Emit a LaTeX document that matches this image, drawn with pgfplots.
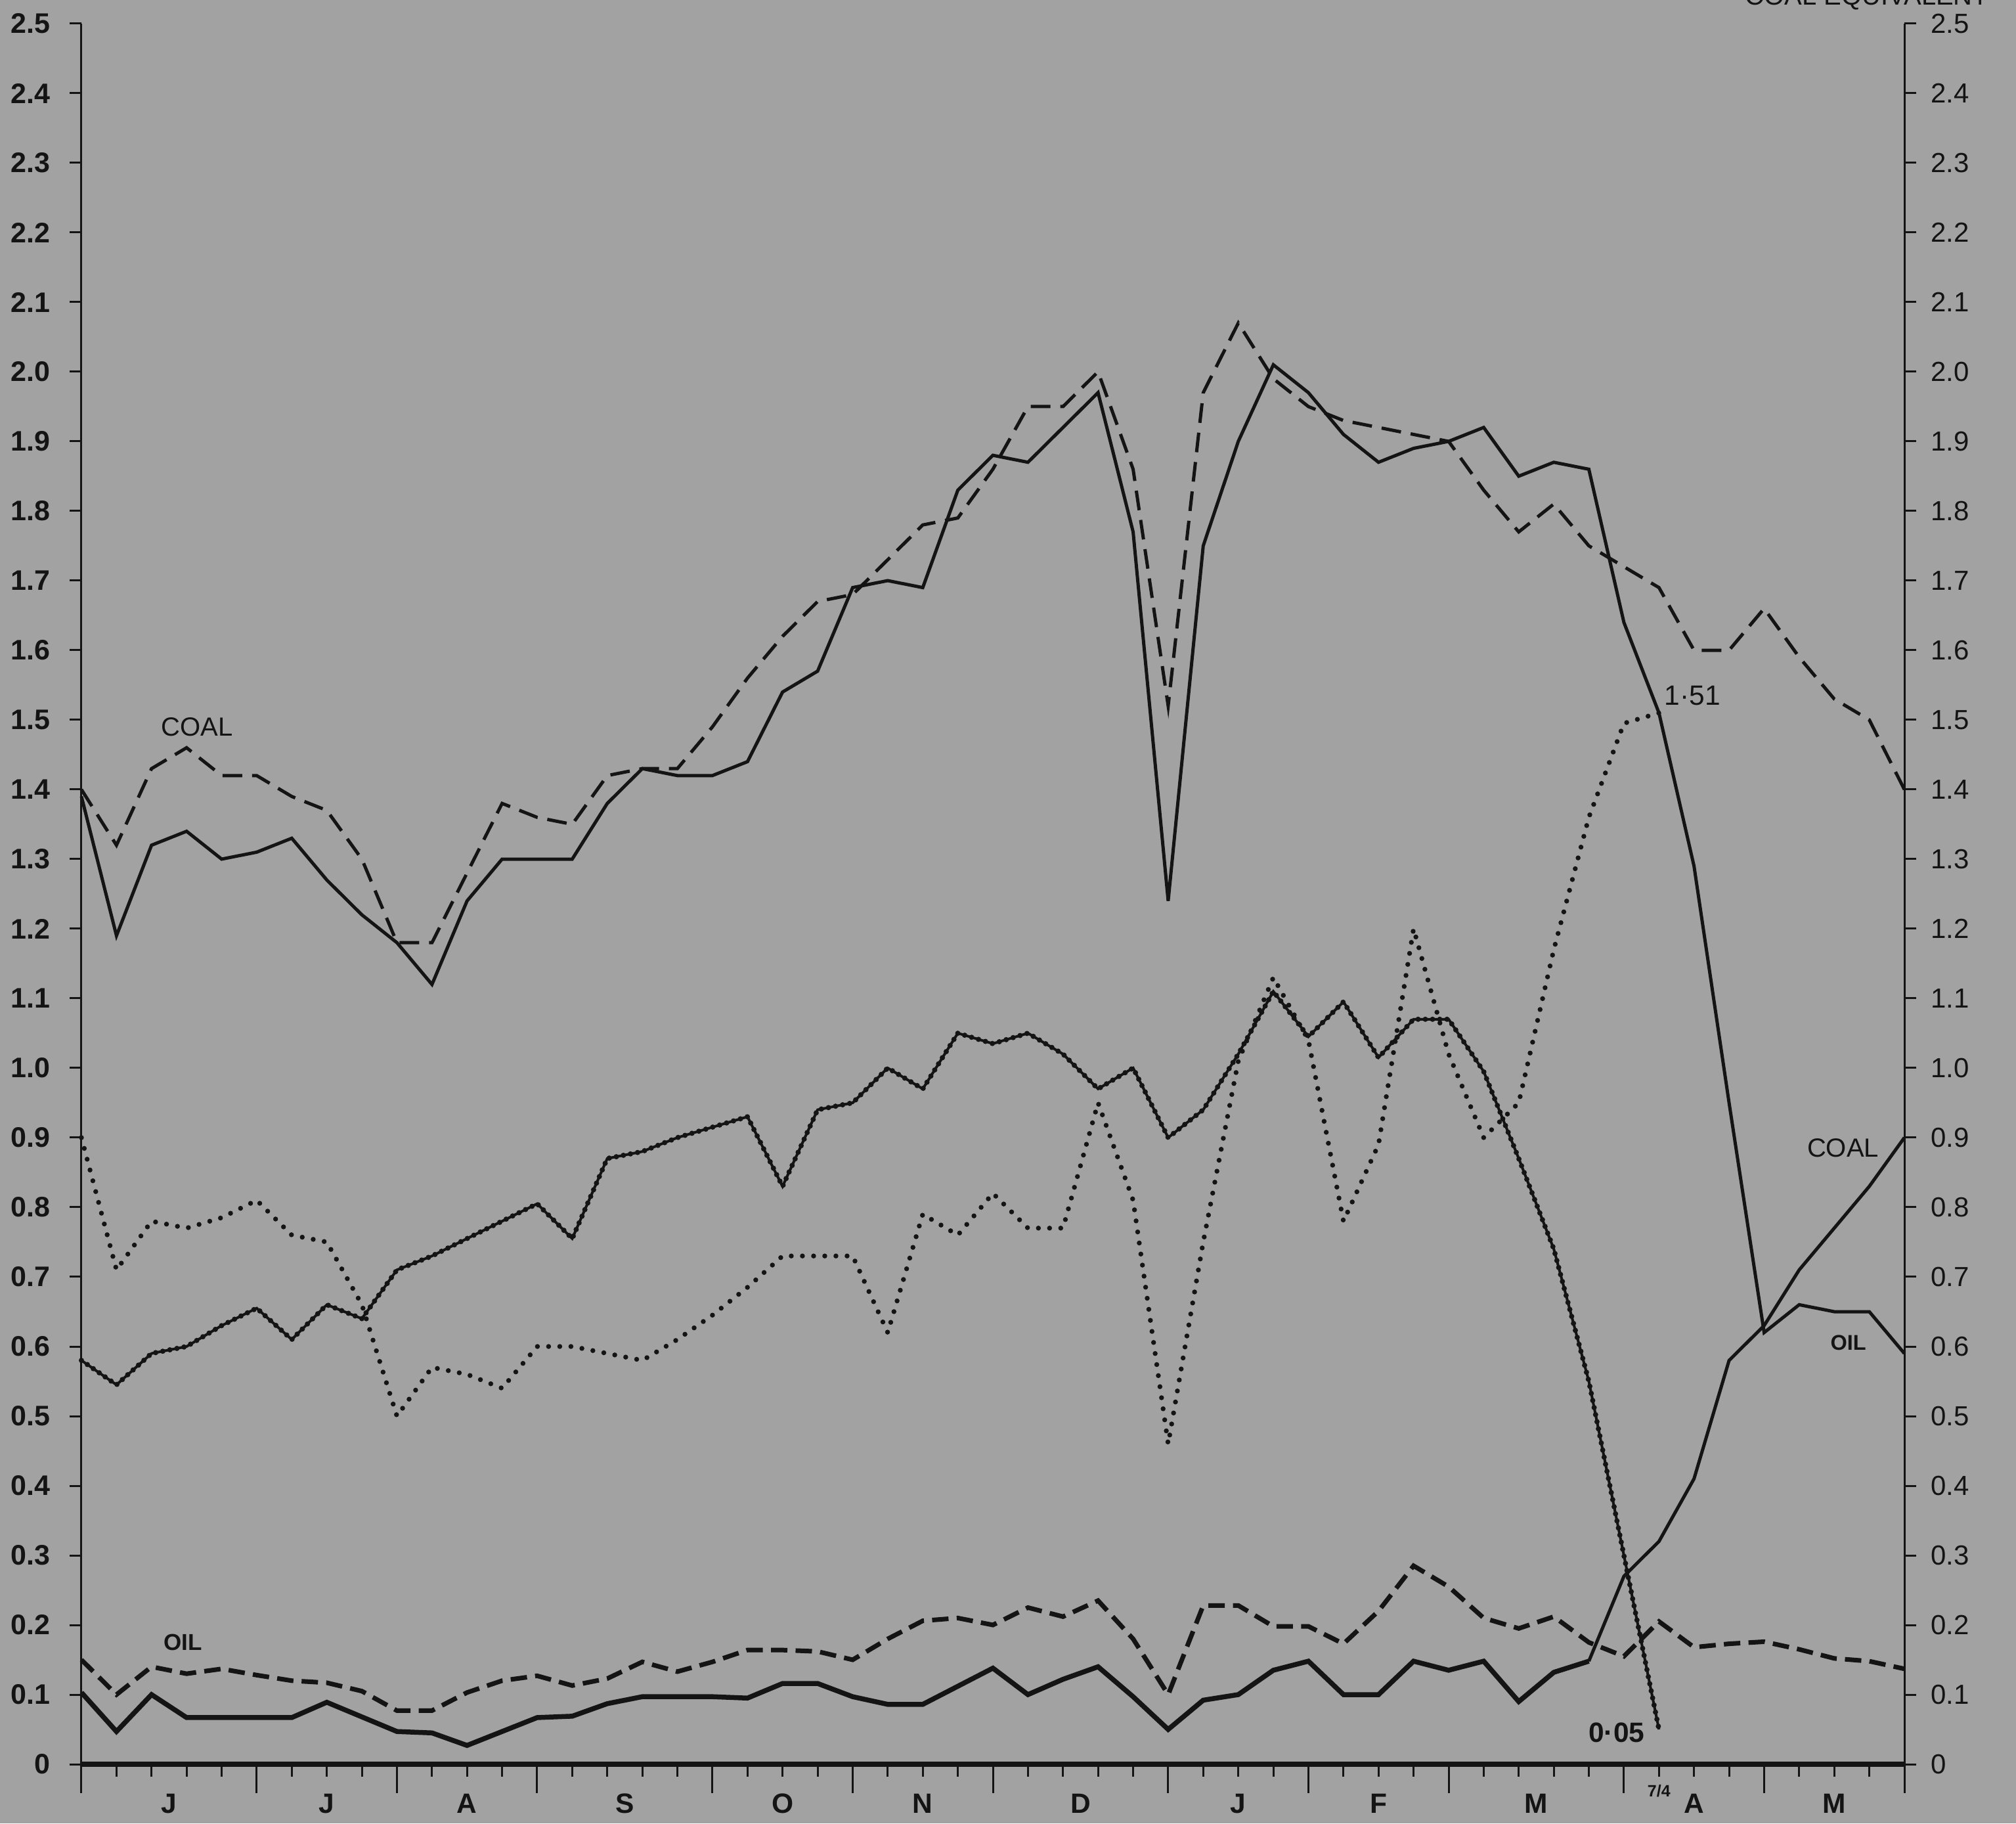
\documentclass[border=0pt]{standalone}
\usepackage{pgfplots}
\pgfplotsset{compat=1.18}
\usepackage{pgfplotstable}
\usepackage{fontspec}
\setmainfont{Liberation Sans}

\definecolor{paper}{RGB}{162,162,162}
\definecolor{ink}{RGB}{20,20,20}

% upper solid line (coal, falls to the oil level at the end)
\pgfplotstableread{
w v
0 1.39
1 1.19
2 1.32
3 1.34
4 1.30
5 1.31
6 1.33
7 1.27
8 1.22
9 1.18
10 1.12
11 1.24
12 1.30
13 1.30
14 1.30
15 1.38
16 1.43
17 1.42
18 1.42
19 1.44
20 1.54
21 1.57
22 1.69
23 1.70
24 1.69
25 1.83
26 1.88
27 1.87
28 1.92
29 1.97
30 1.77
31 1.24
32 1.75
33 1.90
34 2.01
35 1.97
36 1.91
37 1.87
38 1.89
39 1.90
40 1.92
41 1.85
42 1.87
43 1.86
44 1.64
45 1.51
46 1.29
47 0.95
48 0.62
49 0.66
50 0.65
51 0.65
52 0.59
}\upsolid

% upper dashed line
\pgfplotstableread{
w v
0 1.40
1 1.32
2 1.43
3 1.46
4 1.42
5 1.42
6 1.39
7 1.37
8 1.30
9 1.18
10 1.18
11 1.28
12 1.38
13 1.36
14 1.35
15 1.42
16 1.43
17 1.43
18 1.49
19 1.56
20 1.62
21 1.67
22 1.68
23 1.73
24 1.78
25 1.79
26 1.86
27 1.95
28 1.95
29 2.00
30 1.86
31 1.52
32 1.97
33 2.07
34 1.99
35 1.95
36 1.93
37 1.92
38 1.91
39 1.90
40 1.83
41 1.77
42 1.81
43 1.75
44 1.72
45 1.69
46 1.60
47 1.60
48 1.66
49 1.59
50 1.53
51 1.50
52 1.40
}\updash

% middle dotted line
\pgfplotstableread{
w v
0 0.90
1 0.71
2 0.78
3 0.77
4 0.785
5 0.81
6 0.76
7 0.75
8 0.66
9 0.50
10 0.57
11 0.56
12 0.54
13 0.60
14 0.60
15 0.59
16 0.58
17 0.61
18 0.645
19 0.685
20 0.73
21 0.73
22 0.73
23 0.62
24 0.79
25 0.76
26 0.82
27 0.77
28 0.77
29 0.95
30 0.81
31 0.46
32 0.75
33 1.01
34 1.13
35 1.04
36 0.78
37 0.89
38 1.20
39 1.02
40 0.90
41 0.95
42 1.17
43 1.36
44 1.495
45 1.51
}\middot

% middle beaded line
\pgfplotstableread{
w v
0 0.58
1 0.545
2 0.59
3 0.60
4 0.63
5 0.655
6 0.61
7 0.66
8 0.64
9 0.71
10 0.73
11 0.755
12 0.78
13 0.805
14 0.755
15 0.87
16 0.88
17 0.90
18 0.915
19 0.93
20 0.83
21 0.94
22 0.95
23 1.00
24 0.97
25 1.05
26 1.035
27 1.05
28 1.02
29 0.97
30 1.00
31 0.90
32 0.94
33 1.02
34 1.11
35 1.045
36 1.095
37 1.015
38 1.07
39 1.07
40 0.995
41 0.87
42 0.74
43 0.55
44 0.30
45 0.05
}\midbead

% lower dashed line (oil)
\pgfplotstableread{
w v
0 0.15
1 0.10
2 0.14
3 0.13
4 0.137
5 0.128
6 0.12
7 0.117
8 0.105
9 0.077
10 0.077
11 0.103
12 0.12
13 0.127
14 0.113
15 0.123
16 0.147
17 0.133
18 0.147
19 0.164
20 0.164
21 0.162
22 0.15
23 0.18
24 0.206
25 0.21
26 0.20
27 0.225
28 0.212
29 0.235
30 0.18
31 0.10
32 0.228
33 0.228
34 0.198
35 0.198
36 0.173
37 0.22
38 0.285
39 0.255
40 0.21
41 0.195
42 0.212
43 0.175
44 0.155
45 0.205
46 0.168
47 0.173
48 0.176
49 0.165
50 0.152
51 0.148
52 0.137
}\lowdash

% lower solid line
\pgfplotstableread{
w v
0 0.103
1 0.047
2 0.10
3 0.067
4 0.067
5 0.067
6 0.067
7 0.089
8 0.068
9 0.047
10 0.045
11 0.027
12 0.047
13 0.067
14 0.069
15 0.087
16 0.097
17 0.097
18 0.097
19 0.095
20 0.116
21 0.116
22 0.097
23 0.086
24 0.086
25 0.112
26 0.138
27 0.10
28 0.122
29 0.14
30 0.097
31 0.05
32 0.092
33 0.10
34 0.135
35 0.148
36 0.10
37 0.10
38 0.148
39 0.135
40 0.148
41 0.09
42 0.132
43 0.148
}\lowsolid

% coal rising after 7/4
\pgfplotstableread{
w v
43 0.148
44 0.27
45 0.32
46 0.41
47 0.58
48 0.63
49 0.71
50 0.77
51 0.83
52 0.90
}\coalrise

\pgfplotsset{
  frame/.style={
    width=555.2pt, height=530pt, scale only axis,
    at={(0,0)}, anchor=south west,
    xmin=0, xmax=52, ymin=0, ymax=2.5,
    tick align=outside,
    tick style={ink, line width=0.6pt},
    axis line style={ink, line width=0.6pt},
  },
  yside/.style={
    axis x line=none,
    ytick={0,0.1,0.2,0.3,0.4,0.5,0.6,0.7,0.8,0.9,1.0,1.1,1.2,1.3,1.4,1.5,1.6,1.7,1.8,1.9,2.0,2.1,2.2,2.3,2.4,2.5},
    yticklabels={0,0.1,0.2,0.3,0.4,0.5,0.6,0.7,0.8,0.9,1.0,1.1,1.2,1.3,1.4,1.5,1.6,1.7,1.8,1.9,2.0,2.1,2.2,2.3,2.4,2.5},
    major tick length=3.5pt,
  },
}

\begin{document}
\begin{tikzpicture}
\fill[paper] (-24.8pt,-18pt) rectangle (589.2pt,537.2pt);

% left scale
\begin{axis}[frame, yside, axis y line*=left,
  yticklabel style={font=\fontsize{8.6}{9}\selectfont\bfseries, text=ink, xshift=-2.5pt}]
\end{axis}

% right scale
\begin{axis}[frame, yside, axis y line*=right,
  yticklabel style={font=\fontsize{8.4}{9}\selectfont, text=ink, xshift=1pt}]
\end{axis}

% weeks, months and the series
\begin{axis}[frame,
  axis x line*=bottom, axis y line=none,
  axis line style={ink, line width=1.5pt},
  clip=false,
  xtick={0,5,9,13,18,22,26,31,35,39,44,48,52},
  xticklabels={,,,,,,,,,,,,},
  minor xtick={0,...,52},
  major tick length=8.7pt, minor tick length=3.7pt,
  extra x ticks={2.5,7,11,15.5,20,24,28.5,33,37,41.5,46,50},
  extra x tick labels={J,J,A,S,O,N,D,J,F,M,A,M},
  extra x tick style={major tick length=0pt, tick style={draw=none},
    xticklabel style={font=\fontsize{8.5}{9}\selectfont\bfseries, text=ink,
      anchor=north, yshift=-5.5pt}},
]
\addplot[ink, line width=1pt] table[x=w, y=v] {\upsolid};
\addplot[ink, line width=1pt, dash pattern=on 6pt off 3pt] table[x=w, y=v] {\updash};
\addplot[ink, line width=1.5pt, line cap=round, dash pattern=on 0pt off 3.4pt] table[x=w, y=v] {\middot};
\addplot[ink, line width=0.8pt] table[x=w, y=v] {\midbead};
\addplot[ink, line width=1.6pt, line cap=round, dash pattern=on 0pt off 2.2pt] table[x=w, y=v] {\midbead};
\addplot[ink, line width=1.4pt, dash pattern=on 5pt off 2.5pt] table[x=w, y=v] {\lowdash};
\addplot[ink, line width=1.5pt] table[x=w, y=v] {\lowsolid};
\addplot[ink, line width=1pt] table[x=w, y=v] {\coalrise};

\node[font=\fontsize{8}{9}\selectfont, text=ink] at (axis cs:3.3,1.49) {COAL};
\node[font=\fontsize{7}{8}\selectfont\bfseries, text=ink] at (axis cs:2.9,0.175) {OIL};
\node[font=\fontsize{8.5}{9}\selectfont, text=ink, anchor=west, inner sep=1pt] at (axis cs:45.05,1.535) {1·51};
\node[font=\fontsize{8.5}{9}\selectfont\bfseries, text=ink, anchor=east, inner sep=1pt] at (axis cs:44.7,0.045) {0·05};
\node[font=\fontsize{8}{9}\selectfont, text=ink] at (axis cs:50.25,0.885) {COAL};
\node[font=\fontsize{6.5}{8}\selectfont\bfseries, text=ink] at (axis cs:50.4,0.605) {OIL};
\node[font=\fontsize{5}{6}\selectfont\bfseries, text=ink] at (axis cs:45,0) [yshift=-8.2pt] {7/4};
\end{axis}

% caption of the right scale, cut by the top edge as in the source
\node[anchor=base, font=\fontsize{8}{9}\selectfont, text=ink] at (543.8pt,535.6pt) {COAL EQUIVALENT};

\pgfresetboundingbox
\path[use as bounding box] (-24.8pt,-18pt) rectangle (589.2pt,537.2pt);
\end{tikzpicture}
\end{document}
